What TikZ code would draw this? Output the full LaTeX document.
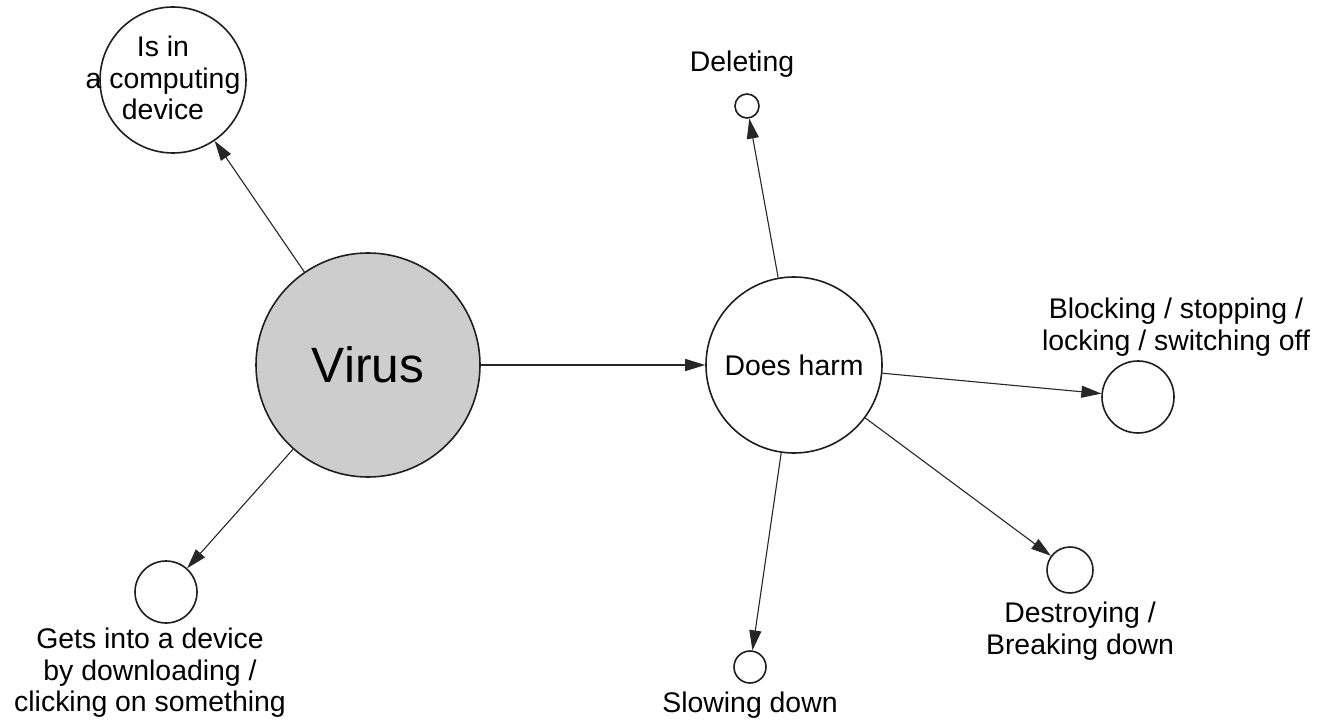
\documentclass[tikz,border=0pt]{standalone}
\usepackage{fontspec}
\setmainfont{Liberation Sans}
\usetikzlibrary{arrows.meta, positioning}
\definecolor{virusfill}{RGB}{205,205,205}
\definecolor{ringborder}{RGB}{30,30,30}
\tikzset{
  concept/.style={
    circle, draw=ringborder, line width=0.8pt,
    fill=white, inner sep=0pt},
  maincirc/.style={
    concept, fill=virusfill, minimum size=112pt,
    font=\fontsize{24.8}{28}\selectfont},
  caption/.style={
    align=center, inner sep=0pt,
    font=\fontsize{14.2}{15.8}\selectfont},
  link/.style={-{Triangle[length=10pt, width=6pt]}, line width=0.55pt,
               color=black!85}
}

\begin{document}
\begin{tikzpicture}[x=0.5pt, y=-0.5pt]
  \useasboundingbox (0,0) rectangle (1321,721);

  %% Centre
  \node[maincirc] (virus) at (368,365) {Virus};

  %% Left side
  \node[concept, minimum size=73pt] (isin) at (173,80) {};
  \node[caption] (isintxt) at (163,78) {Is in\\a computing\\device};

  \node[concept, minimum size=31pt] (gets) at (166,592) {};
  \node[caption] (getstxt) at (150,673)
    {Gets into a device\\by downloading /\\clicking on something};

  %% Right side: harm and its kinds
  \node[concept, minimum size=88pt, caption] (harm) at (794,365) {Does harm};

  \node[concept, minimum size=12pt] (del) at (747,106) {};
  \node[caption] (deltxt) at (742,64) {Deleting};

  \node[concept, minimum size=36pt] (block) at (1138,397) {};
  \node[caption] (blocktxt) at (1176,327)
    {Blocking / stopping /\\locking / switching off};

  \node[concept, minimum size=23pt] (destr) at (1070,570) {};
  \node[caption] (destrtxt) at (1080,631) {Destroying /\\Breaking down};

  \node[concept, minimum size=16pt] (slow) at (750,667) {};
  \node[caption] (slowtxt) at (750,705) {Slowing down};

  %% Arrows
  \draw[link] (virus) -- (isin);
  \draw[link] (virus) -- (gets);
  \draw[link] (virus) -- (harm);
  \draw[link] (harm)  -- (del);
  \draw[link] (harm)  -- (block);
  \draw[link] (harm)  -- (destr);
  \draw[link] (harm)  -- (slow);

\end{tikzpicture}
\end{document}
